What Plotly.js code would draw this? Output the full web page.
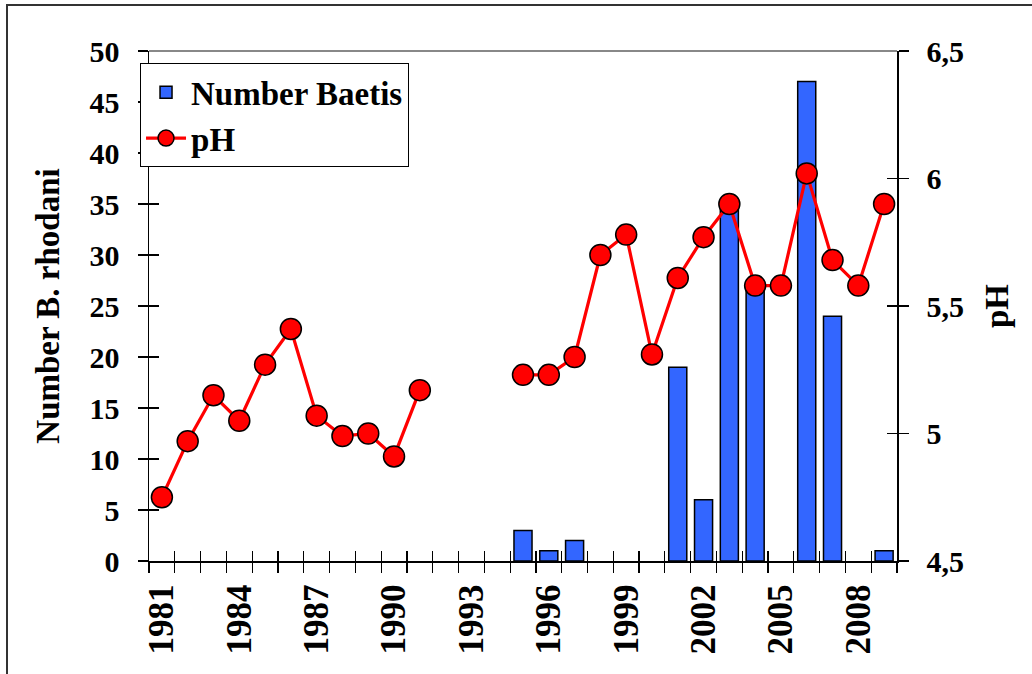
<!DOCTYPE html>
<html>
<head>
<meta charset="utf-8">
<script src="https://cdn.plot.ly/plotly-3.0.1.min.js"></script>
<style>
  html, body { margin: 0; padding: 0; background: #fff; overflow: hidden; }
  #wrap { position: relative; width: 1032px; height: 674px; }
  #chart { width: 1032px; height: 674px; }
  #frame { position: absolute; left: 6px; top: 4px; width: 1100px; height: 800px;
           border-left: 2px solid #333; border-top: 2px solid #333; pointer-events: none; }
</style>
</head>
<body>
<div id="wrap">
  <div id="chart"></div>
  <div id="frame"></div>
</div>
<script>
// ---- data ----
const years = [1981, 1982, 1983, 1984, 1985, 1986, 1987, 1988, 1989, 1990,
               1991, 1992, 1993, 1994, 1995, 1996, 1997, 1998, 1999, 2000,
               2001, 2002, 2003, 2004, 2005, 2006, 2007, 2008, 2009];
const baetis = [null, null, null, null, null, null, null, null, null, null,
                null, null, null, null, 3, 1, 2, null, null, null,
                19, 6, 35, 27, null, 47, 24, null, 1];
const pH = [4.75, 4.97, 5.15, 5.05, 5.27, 5.41, 5.07, 4.99, 5.00, 4.91,
            5.17, null, null, null, 5.23, 5.23, 5.30, 5.70, 5.78, 5.31,
            5.61, 5.77, 5.90, 5.58, 5.58, 6.02, 5.68, 5.58, 5.90];
const xTickYears = [1981, 1984, 1987, 1990, 1993, 1996, 1999, 2002, 2005, 2008];
const xTickText = ["1981", "1984", "1987", "1990", "1993", "1996", "1999", "2002", "2005", "2008"];
const leftTickVals = [0, 5, 10, 15, 20, 25, 30, 35, 40, 45, 50];
const leftTickText = ["0", "5", "10", "15", "20", "25", "30", "35", "40", "45", "50"];
const pHTickVals = [4.5, 5, 5.5, 6, 6.5];
const pHTickText = ["4,5", "5", "5,5", "6", "6,5"];
const seriesNames = ["Number Baetis", "pH"];
const leftTitle = "Number B. rhodani";
const rightTitle = "pH";

const FONT = "Liberation Serif, Times New Roman, serif";
function bold(size) { return { family: FONT, size: size, color: "#000", weight: "bold" }; }
const b = s => "<b>" + s + "</b>";

const traces = [
  {
    type: "bar", name: seriesNames[0], x: years, y: baetis,
    width: 0.7, xaxis: "x", yaxis: "y",
    marker: { color: "#3366FF", line: { color: "#000", width: 1.5 } }
  },
  {
    type: "scatter", mode: "lines+markers", name: seriesNames[1],
    x: years, y: pH, xaxis: "x", yaxis: "y2", connectgaps: false,
    line: { color: "#FF0000", width: 3.2 },
    marker: { color: "#FF0000", size: 21, line: { color: "#000", width: 1.5 } }
  }
];

const xr = [1980.5, 2009.5];
const layout = {
  width: 1032, height: 674,
  margin: { l: 149, r: 135, t: 51, b: 113 },
  paper_bgcolor: "#fff", plot_bgcolor: "#fff",
  showlegend: true,
  legend: {
    x: -0.012, y: 0.976, xanchor: "left", yanchor: "top",
    bgcolor: "#fff", bordercolor: "#000", borderwidth: 1,
    font: bold(33), traceorder: "normal", itemwidth: 40
  },
  xaxis: {
    range: xr, tickmode: "array", tickvals: xTickYears, ticktext: xTickText.map(b),
    tickangle: -90, ticks: "", showgrid: false, zeroline: false,
    showline: true, linecolor: "#000", linewidth: 1.5,
    tickfont: bold(35),
    ticklabelstandoff: 8,
    minor: { ticks: "outside", tick0: 1980.5, dtick: 1, ticklen: 10, tickcolor: "#000", tickwidth: 1.2, showgrid: false }
  },
  xaxis2: {
    range: xr, overlaying: "x", anchor: "y", side: "bottom",
    tickmode: "linear", tick0: 1980.5, dtick: 1, ticks: "inside", ticklen: 10,
    tickcolor: "#000", tickwidth: 1.2, showticklabels: false,
    showgrid: false, zeroline: false, showline: false
  },
  yaxis: {
    range: [0, 50], tickmode: "array", tickvals: leftTickVals, ticktext: leftTickText.map(b),
    ticks: "outside", ticklen: 10, tickcolor: "#000", tickwidth: 1.2,
    showgrid: false, zeroline: false, showline: true, linecolor: "#000", linewidth: 1.5,
    tickfont: bold(30), ticklabelstandoff: 12,
    title: { text: b(leftTitle), font: bold(33), standoff: 20 }
  },
  yaxis3: {
    range: [0, 50], overlaying: "y", side: "left", anchor: "x",
    tickmode: "array", tickvals: leftTickVals, ticks: "inside", ticklen: 10,
    tickcolor: "#000", tickwidth: 1.2, showticklabels: false,
    showgrid: false, zeroline: false, showline: false
  },
  yaxis2: {
    range: [4.5, 6.5], overlaying: "y", side: "right", anchor: "x",
    tickmode: "array", tickvals: pHTickVals, ticktext: pHTickText.map(b),
    ticks: "outside", ticklen: 10, tickcolor: "#000", tickwidth: 1.2,
    showgrid: false, zeroline: false, showline: true, linecolor: "#000", linewidth: 1.5,
    tickfont: { family: "Liberation Serif", size: 30, color: "#000", weight: 700 }, ticklabelstandoff: 12,
    title: { text: b(rightTitle), font: bold(33), standoff: 22 }
  },
  yaxis4: {
    range: [4.5, 6.5], overlaying: "y", side: "right", anchor: "x",
    tickmode: "array", tickvals: pHTickVals, ticks: "inside", ticklen: 10,
    tickcolor: "#000", tickwidth: 1.2, showticklabels: false,
    showgrid: false, zeroline: false, showline: false
  },
  shapes: [
    { type: "line", xref: "paper", yref: "paper", x0: 0, x1: 1, y0: 1, y1: 1,
      line: { color: "#888", width: 2 } }
  ]
};

// invisible helper traces so the overlay tick axes are drawn
traces.push({ type: "scatter", x: [null], y: [null], xaxis: "x2", yaxis: "y3", showlegend: false, hoverinfo: "skip" });
traces.push({ type: "scatter", x: [null], y: [null], xaxis: "x2", yaxis: "y4", showlegend: false, hoverinfo: "skip" });

Plotly.newPlot("chart", traces, layout, { staticPlot: true, displayModeBar: false });
</script>
</body>
</html>
